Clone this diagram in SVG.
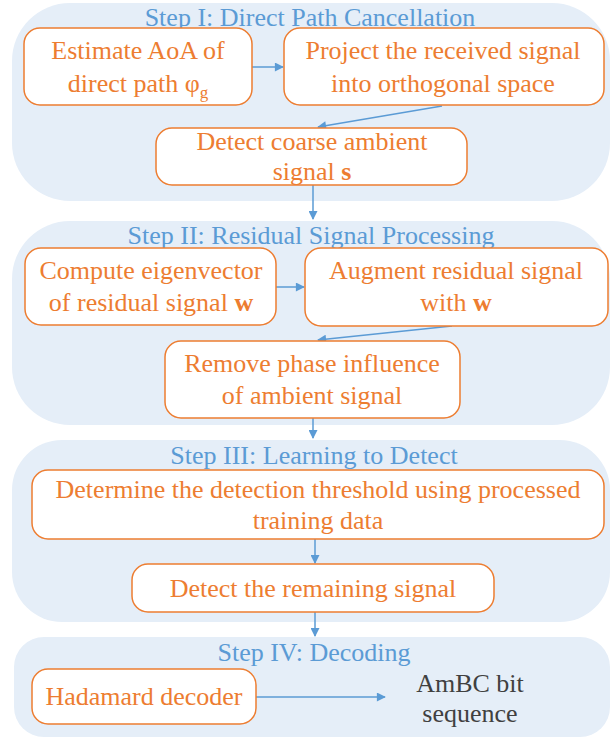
<svg xmlns="http://www.w3.org/2000/svg" width="616" height="740" viewBox="0 0 616 740">
<style>
.panel{fill:#E5EEF8;stroke:none}
.box{fill:#fff;stroke:#ED7D31;stroke-width:1.5}
.t{font-family:"Liberation Serif","Times New Roman",serif;font-size:26px;fill:#ED7D31;text-anchor:middle}
.ttl{font-family:"Liberation Serif","Times New Roman",serif;font-size:26px;fill:#5B9BD5;text-anchor:middle}
.out{font-family:"Liberation Serif","Times New Roman",serif;font-size:26px;fill:#404040;text-anchor:middle}
.c{stroke:#5B9BD5;stroke-width:1.5;fill:none;marker-end:url(#ah)}
</style>
<defs>
<marker id="ah" viewBox="0 0 10 10" refX="9" refY="5" markerWidth="7" markerHeight="6" orient="auto" markerUnits="strokeWidth">
<path d="M0,0 L10,5 L0,10 z" fill="#5B9BD5"/>
</marker>
</defs>
<g id="panels">
<rect class="panel" x="12" y="3" width="598" height="198" rx="58"/>
<rect class="panel" x="12" y="221" width="598" height="204" rx="58"/>
<rect class="panel" x="12" y="440" width="598" height="182" rx="50"/>
<rect class="panel" x="14" y="637" width="596" height="100" rx="30"/>
</g>
<g id="titles">
<text class="ttl" x="310" y="26">Step I: Direct Path Cancellation</text>
<text class="ttl" x="311" y="244">Step II: Residual Signal Processing</text>
<text class="ttl" x="314" y="464">Step III: Learning to Detect</text>
<text class="ttl" x="314" y="661">Step IV: Decoding</text>
</g>
<g id="connectors">
<line class="c" x1="252" y1="67" x2="283" y2="67"/>
<line class="c" x1="442" y1="106" x2="318" y2="127"/>
<line class="c" x1="313" y1="185" x2="313" y2="219"/>
<line class="c" x1="276" y1="287" x2="304" y2="287"/>
<line class="c" x1="452" y1="326" x2="318" y2="340"/>
<line class="c" x1="313" y1="418" x2="313" y2="438"/>
<line class="c" x1="315" y1="539" x2="315" y2="563"/>
<line class="c" x1="315" y1="612" x2="315" y2="636"/>
<line class="c" x1="256" y1="697" x2="385" y2="697"/>
</g>
<g id="n1">
<rect class="box" x="24" y="28" width="228" height="77" rx="16"/>
<text class="t" x="138" y="59">Estimate AoA of</text>
<text class="t" x="138" y="92">direct path φ<tspan font-size="17" dy="6">g</tspan></text>
</g>
<g id="n2">
<rect class="box" x="284" y="28" width="320" height="77" rx="16"/>
<text class="t" x="443" y="59">Project the received signal</text>
<text class="t" x="443" y="92">into orthogonal space</text>
</g>
<g id="n3">
<rect class="box" x="156" y="128" width="311" height="57" rx="16"/>
<text class="t" x="312" y="150">Detect coarse ambient</text>
<text class="t" x="312" y="180">signal <tspan font-weight="bold">s</tspan></text>
</g>
<g id="n4">
<rect class="box" x="25" y="248" width="251" height="77" rx="16"/>
<text class="t" x="151" y="279">Compute eigenvector</text>
<text class="t" x="151" y="311">of residual signal <tspan font-weight="bold">w</tspan></text>
</g>
<g id="n5">
<rect class="box" x="305" y="248" width="303" height="78" rx="16"/>
<text class="t" x="456" y="279">Augment residual signal</text>
<text class="t" x="456" y="311">with <tspan font-weight="bold">w</tspan></text>
</g>
<g id="n6">
<rect class="box" x="165" y="341" width="295" height="77" rx="16"/>
<text class="t" x="312" y="372">Remove phase influence</text>
<text class="t" x="312" y="404">of ambient signal</text>
</g>
<g id="n7">
<rect class="box" x="32" y="470" width="572" height="69" rx="16"/>
<text class="t" x="318" y="498">Determine the detection threshold using processed</text>
<text class="t" x="318" y="529">training data</text>
</g>
<g id="n8">
<rect class="box" x="132" y="564" width="362" height="48" rx="16"/>
<text class="t" x="313" y="597">Detect the remaining signal</text>
</g>
<g id="n9">
<rect class="box" x="32" y="669" width="224" height="55" rx="16"/>
<text class="t" x="144" y="705">Hadamard decoder</text>
</g>
<g id="n10">
<text class="out" x="470" y="692">AmBC bit</text>
<text class="out" x="470" y="722">sequence</text>
</g>
</svg>
